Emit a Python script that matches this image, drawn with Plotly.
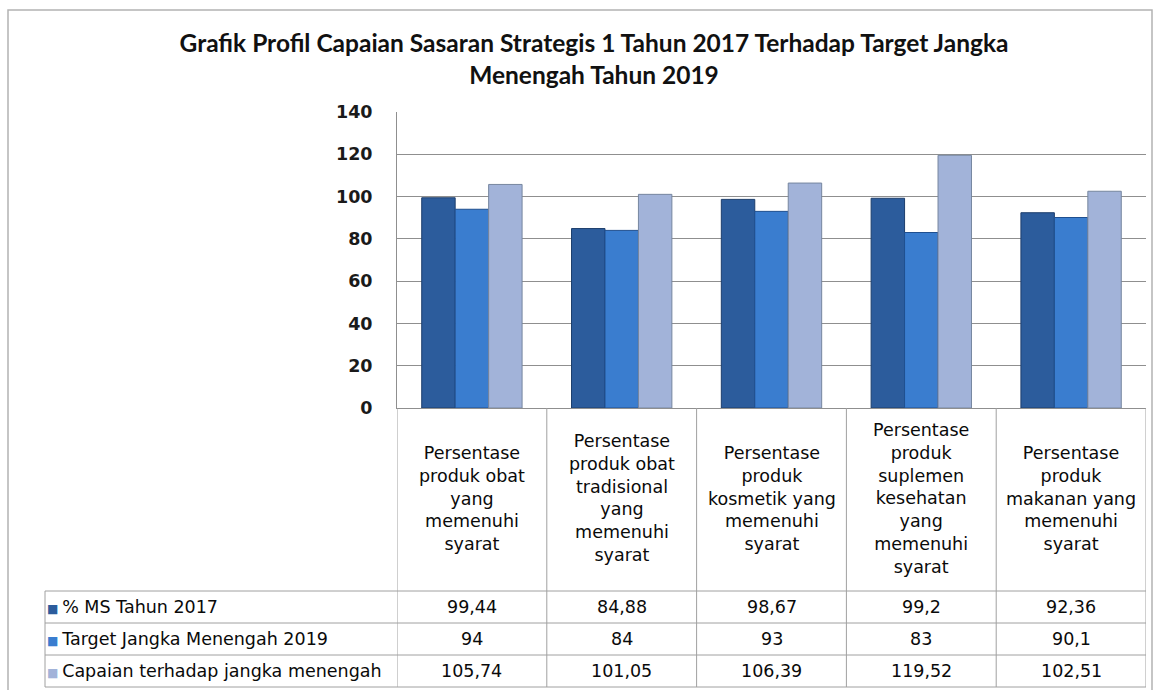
import plotly.graph_objects as go

# data
categories = [
    "Persentase<br>produk obat<br>yang<br>memenuhi<br>syarat",
    "Persentase<br>produk obat<br>tradisional<br>yang<br>memenuhi<br>syarat",
    "Persentase<br>produk<br>kosmetik yang<br>memenuhi<br>syarat",
    "Persentase<br>produk<br>suplemen<br>kesehatan<br>yang<br>memenuhi<br>syarat",
    "Persentase<br>produk<br>makanan yang<br>memenuhi<br>syarat",
]
series_names = ["% MS Tahun 2017", "Target Jangka Menengah 2019", "Capaian terhadap jangka menengah"]
ms_2017 = [99.44, 84.88, 98.67, 99.2, 92.36]
target_2019 = [94, 84, 93, 83, 90.1]
capaian = [105.74, 101.05, 106.39, 119.52, 102.51]
y_ticks = [0, 20, 40, 60, 80, 100, 120, 140]

W, H = 1162, 690
colors = ["#2c5c9c", "#3a7dcf", "#a2b3d9"]
edges = ["#1d3e6c", "#1f4f8f", "#76869f"]


def px_x(v):
    return v / W


def px_y(v):
    return 1 - v / H


def fmt(v):
    return f"{v:g}".replace(".", ",")


fig = go.Figure()
for name, vals, c, e in zip(series_names, [ms_2017, target_2019, capaian], colors, edges):
    fig.add_trace(go.Bar(
        x=categories, y=vals, name=name,
        marker=dict(color=c, line=dict(color=e, width=1)),
        showlegend=False,
    ))

grid_col = "#8f8f8f"
tab_col = "#a0a0a0"
shapes = []
# outer frame
shapes.append(dict(type="rect", xref="paper", yref="paper",
                   x0=px_x(8), x1=px_x(1152), y0=px_y(10), y1=px_y(720),
                   line=dict(color="#b3b3b3", width=1.5)))
# table grid: verticals on the category boundaries
for b in range(len(categories) + 1):
    shapes.append(dict(type="line", xref="x", yref="paper",
                       x0=b - 0.5, x1=b - 0.5, y0=px_y(408), y1=px_y(687),
                       line=dict(color=tab_col, width=1)))
shapes.append(dict(type="line", xref="paper", yref="paper",
                   x0=px_x(45), x1=px_x(45), y0=px_y(591), y1=px_y(687),
                   line=dict(color=tab_col, width=1)))
for yy in [591, 623, 655, 687]:
    shapes.append(dict(type="line", xref="paper", yref="paper",
                       x0=px_x(45), x1=px_x(1146), y0=px_y(yy), y1=px_y(yy),
                       line=dict(color=tab_col, width=1)))

ann = []
txt_font = dict(family="DejaVu Sans", size=17.5, color="#0a0a0a")
# header cells with category names
for cat in categories:
    ann.append(dict(x=cat, xref="x", y=px_y(498), yref="paper",
                    text=cat, showarrow=False, xanchor="center", yanchor="middle",
                    align="center", font=txt_font))
# one table row per series
row_y = [607, 639, 671]
for i, (name, vals) in enumerate(zip(series_names, [ms_2017, target_2019, capaian])):
    ann.append(dict(x=px_x(45), xref="paper", y=px_y(row_y[i]), yref="paper",
                    text=f"<span style='color:{colors[i]};font-size:12px'>■ </span>{name}",
                    showarrow=False, xanchor="left", yanchor="middle", font=txt_font))
    for cat, v in zip(categories, vals):
        ann.append(dict(x=cat, xref="x", y=px_y(row_y[i]), yref="paper",
                        text=fmt(v), showarrow=False, xanchor="center", yanchor="middle",
                        font=txt_font))

fig.update_layout(
    width=W, height=H,
    margin=dict(l=0, r=0, t=0, b=0, autoexpand=False),
    paper_bgcolor="white", plot_bgcolor="white",
    barmode="group", bargap=0.33, bargroupgap=0,
    title=dict(text="Grafik Profil Capaian Sasaran Strategis 1 Tahun 2017 Terhadap Target Jangka<br>Menengah Tahun 2019",
               x=px_x(594), xanchor="center", y=px_y(52), yanchor="top",
               font=dict(family="Lato", size=24.5, color="#111111", weight="bold")),
    xaxis=dict(domain=[px_x(397), px_x(1146)], range=[-0.5, 4.5], automargin=False,
               showticklabels=False, showgrid=False, zeroline=False,
               showline=True, linecolor=grid_col, linewidth=1),
    yaxis=dict(domain=[px_y(408), px_y(112)], range=[0, 140], tickvals=y_ticks, automargin=False,
               showgrid=True, gridcolor=grid_col, gridwidth=1, zeroline=False,
               showline=True, linecolor=grid_col, linewidth=1,
               ticks="", ticklabelstandoff=20,
               tickfont=dict(family="DejaVu Sans", size=17.5, color="#1a1a1a", weight="bold")),
    shapes=shapes,
    annotations=ann,
)

fig.write_html("out.html", config={"displayModeBar": False},
               post_script="document.body.style.margin='0';")
